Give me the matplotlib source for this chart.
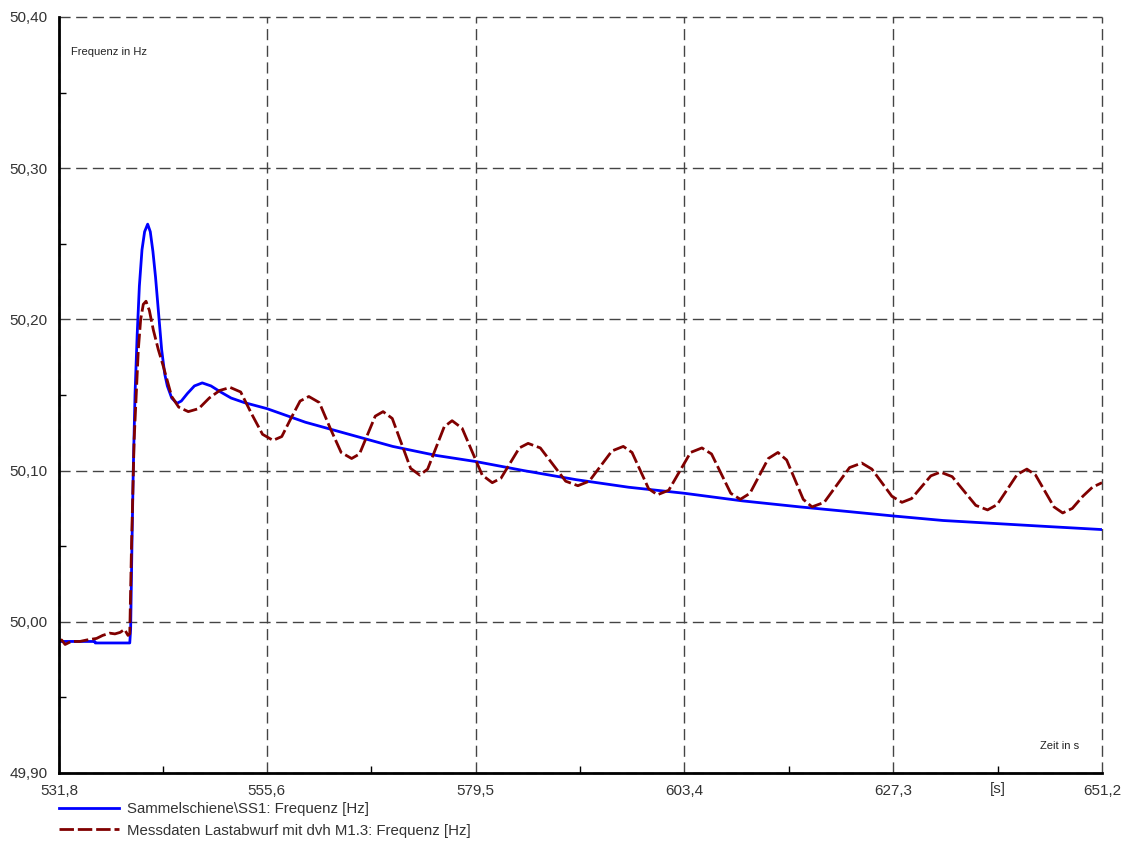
import matplotlib
matplotlib.use("Agg")
import matplotlib.pyplot as plt
from matplotlib.ticker import FixedLocator
import matplotlib.transforms as mtransforms

plt.rcParams['font.family'] = ['Liberation Sans', 'DejaVu Sans']

# ---------------- data ----------------
sim_t = [531.8, 535.9, 535.95, 539.9, 540.0, 540.15, 540.3, 540.5, 540.75, 541.0, 541.3, 541.6,
         541.95, 542.25, 542.55, 542.85, 543.2, 543.55, 543.9, 544.2, 544.7, 545.3, 545.8,
         546.5, 547.3, 548.2, 549.2, 550.3, 551.5, 553.0, 555.6, 560.0, 565.0, 570.0, 575.0,
         579.5, 585.0, 591.0, 597.0, 603.4, 610.0, 616.6, 622.0, 627.3, 633.0, 639.0, 645.0, 651.2]
sim_f = [49.987, 49.987, 49.986, 49.986, 49.995, 50.05, 50.10, 50.15, 50.19, 50.222, 50.246, 50.258,
         50.263, 50.258, 50.245, 50.228, 50.204, 50.180, 50.164, 50.156, 50.148, 50.1445, 50.146,
         50.151, 50.156, 50.158, 50.156, 50.152, 50.148, 50.145, 50.141, 50.132, 50.124, 50.116, 50.110,
         50.106, 50.100, 50.094, 50.089, 50.085, 50.080, 50.076, 50.073, 50.070, 50.067, 50.065, 50.063, 50.061]

mess_t = [531.8, 532.1, 532.5, 533.2, 534.2, 535.0, 536.1, 536.8, 537.6, 538.2, 538.8, 539.3,
          539.7, 539.9, 540.1, 540.4, 540.88, 541.15, 541.45, 541.76, 542.14, 542.6, 543.17, 543.74,
          544.7, 545.5, 546.6, 547.8, 549.0, 550.2, 551.4, 552.6, 553.85, 555.1,
          556.3, 557.3, 558.35, 559.4, 560.4, 561.6, 562.85, 564.1, 565.3, 566.2, 567.1, 568.0,
          568.9, 569.95, 571.0, 572.05, 573.1, 574.0, 574.95, 575.9, 576.8, 577.95, 579.1, 580.25,
          581.4, 582.4, 583.45, 584.5, 585.5, 586.9, 588.35, 589.8, 591.2, 592.5, 593.8, 595.1,
          596.4, 597.4, 598.35, 599.3, 600.3, 601.6, 602.85, 604.1, 605.4, 606.5, 607.6, 608.7,
          609.8, 610.9, 611.95, 613.0, 614.1, 615.1, 616.05, 617.0, 618.0, 619.4, 620.85, 622.3,
          623.7, 624.85, 626.0, 627.15, 628.3, 629.4, 630.5, 631.6, 632.7, 634.05, 635.4, 636.75,
          638.1, 639.2, 640.35, 641.5, 642.6, 643.6, 644.65, 645.7, 646.7, 647.8, 649.0, 650.1, 651.2]
mess_f = [49.987, 49.988, 49.985, 49.987, 49.987, 49.988, 49.989, 49.991, 49.9925, 49.992, 49.993, 49.995,
          49.991, 49.992, 50.05, 50.12, 50.180, 50.200, 50.210, 50.212, 50.206, 50.193, 50.180, 50.169,
          50.149, 50.142, 50.139, 50.141, 50.148, 50.153, 50.155, 50.152, 50.1375, 50.124,
          50.120, 50.1225, 50.1345, 50.146, 50.149, 50.145, 50.128, 50.112, 50.108, 50.111, 50.1235, 50.136,
          50.139, 50.1345, 50.118, 50.1015, 50.097, 50.101, 50.115, 50.129, 50.133, 50.128, 50.1125, 50.097,
          50.092, 50.095, 50.105, 50.115, 50.118, 50.115, 50.104, 50.093, 50.090, 50.093, 50.103, 50.113,
          50.116, 50.112, 50.100, 50.088, 50.084, 50.087, 50.0995, 50.112, 50.115, 50.111, 50.098, 50.085,
          50.081, 50.085, 50.0965, 50.108, 50.112, 50.107, 50.094, 50.081, 50.076, 50.079, 50.0905, 50.102,
          50.105, 50.101, 50.092, 50.083, 50.079, 50.0815, 50.089, 50.0965, 50.099, 50.096, 50.0865, 50.077,
          50.074, 50.0775, 50.0875, 50.0975, 50.101, 50.097, 50.0865, 50.076, 50.072, 50.075, 50.083, 50.089, 50.092]

x_major = [531.8, 555.6, 579.5, 603.4, 627.3, 651.2]
x_major_labels = ["531,8", "555,6", "579,5", "603,4", "627,3", "651,2"]
x_minor = [543.7, 567.55, 591.45, 615.35, 639.25]
y_major = [49.90, 50.00, 50.10, 50.20, 50.30, 50.40]
y_major_labels = ["49,90", "50,00", "50,10", "50,20", "50,30", "50,40"]
y_minor = [49.95, 50.05, 50.15, 50.25, 50.35]

sim_label = "Sammelschiene\\SS1: Frequenz [Hz]"
mess_label = "Messdaten Lastabwurf mit dvh M1.3: Frequenz [Hz]"

# ---------------- figure ----------------
fig = plt.figure(figsize=(11.26, 8.41), dpi=100)
ax = fig.add_axes([59/1126, 1-773/841, (1102-59)/1126, (773-17)/841])

txt_color = '#333333'
l1, = ax.plot(sim_t, sim_f, color='#0000FF', lw=2.0, zorder=3, label=sim_label)
l2, = ax.plot(mess_t, mess_f, color='#800000', lw=2.0, zorder=4, label=mess_label,
              dashes=(5.2, 1.4))

ax.set_xlim(531.8, 651.2)
ax.set_ylim(49.90, 50.40)

ax.xaxis.set_major_locator(FixedLocator(x_major))
ax.set_xticklabels(x_major_labels)
ax.xaxis.set_minor_locator(FixedLocator(x_minor))
ax.yaxis.set_major_locator(FixedLocator(y_major))
ax.set_yticklabels(y_major_labels)
ax.yaxis.set_minor_locator(FixedLocator(y_minor))

ax.tick_params(which='major', length=0, labelsize=11, labelcolor=txt_color)
ax.tick_params(axis='x', which='major', pad=8)
ax.tick_params(axis='y', which='major', pad=8)
ax.tick_params(which='minor', direction='in', length=5, width=1, color='black')

ax.grid(True, which='major', color='#444444', lw=1.0, dashes=(8, 4))
for gl in ax.get_xgridlines() + ax.get_ygridlines():
    gl.set_clip_on(False)

for s in ['top', 'right']:
    ax.spines[s].set_visible(False)
for s in ['left', 'bottom']:
    ax.spines[s].set_linewidth(2.0)
    ax.spines[s].set_color('black')
    ax.spines[s].set_zorder(5)

# "[s]" label at the minor tick position 639.25
trans = mtransforms.blended_transform_factory(ax.transData, ax.transAxes)
ax.text(639.25, -(9/756), "[s]", transform=trans, ha='center', va='top', fontsize=11,
        color=txt_color)

fig.text(71/1126, 1-52/841, "Frequenz in Hz", fontsize=8, ha='left', va='center', color='#222222')
fig.text(1079/1126, 1-746/841, "Zeit in s", fontsize=8, ha='right', va='center', color='#222222')

fig.legend(handles=[l1, l2], loc='upper left', bbox_to_anchor=(59/1126, 1-802/841),
           frameon=False, fontsize=10.8, handlelength=4.0, handletextpad=0.55,
           labelspacing=0.5, borderpad=0, borderaxespad=0, labelcolor=txt_color)

fig.savefig("out.png", dpi=100)
